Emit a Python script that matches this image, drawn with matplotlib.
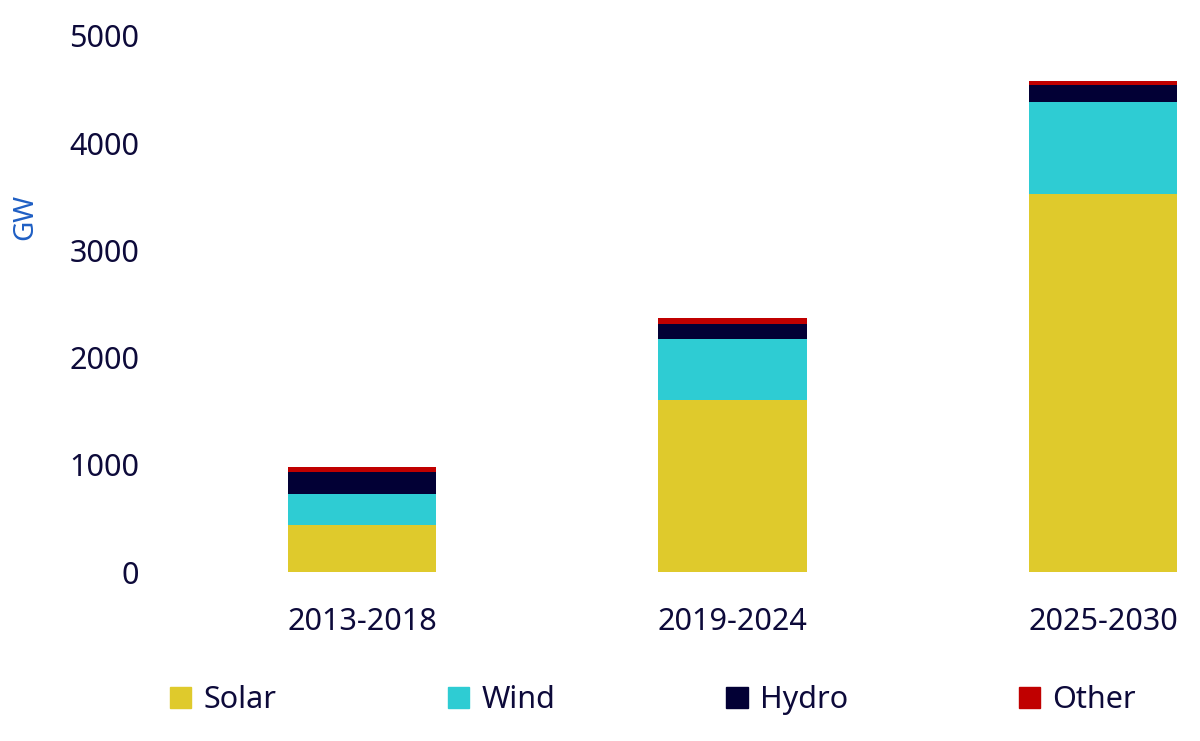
import numpy as np
import matplotlib.pyplot as plt
from matplotlib.patches import Patch

## DATA (GW)
periods = ['2013-2018', '2019-2024', '2025-2030']
solar = [440, 1607, 3526]
wind = [290, 569, 861]
hydro = [203, 140, 158]
other = [47, 53, 35]

series = [('Solar', solar), ('Wind', wind), ('Hydro', hydro), ('Other', other)]
colors = ['#DFCA2C', '#2ECCD3', '#020035', '#C00000']
txt = '#0D0A3A'

plt.rcParams['font.family'] = ['Noto Sans', 'DejaVu Sans']

fig = plt.figure(figsize=(12, 7.41), dpi=100)
ax = fig.add_axes([160/1200, 1 - 572/741, 1030/1200, (572 - 36)/741])

x = np.arange(len(periods))
bottom = np.zeros(len(periods))
for (name, vals), c in zip(series, colors):
    ax.bar(x, vals, width=0.4, bottom=bottom, color=c, label=name)
    bottom += np.array(vals)

ax.set_xlim((160 - 362)/370.5, (1190 - 362)/370.5)
ax.set_ylim(0, 5000)
ax.set_yticks(np.arange(0, 5001, 1000))
ax.set_xticks(x)
ax.set_xticklabels(periods)
ax.tick_params(length=0, labelsize=22, colors=txt)
ax.tick_params(axis='y', pad=15)
ax.tick_params(axis='x', pad=25)
for s in ax.spines.values():
    s.set_visible(False)

fig.text(25/1200, 1 - 217/741, 'GW', rotation=90, ha='center', va='center',
         color='#1F5FC4', fontsize=20)

handles = [Patch(color=c, label=n) for (n, _), c in zip(series, colors)]
fig.legend(handles=handles, loc='center', bbox_to_anchor=(653/1200, 1 - 700/741),
           ncol=4, frameon=False, fontsize=22, handlelength=0.7, handleheight=0.7,
           handletextpad=0.4, columnspacing=5.6, labelcolor=txt)

fig.savefig('out.png', dpi=100)
